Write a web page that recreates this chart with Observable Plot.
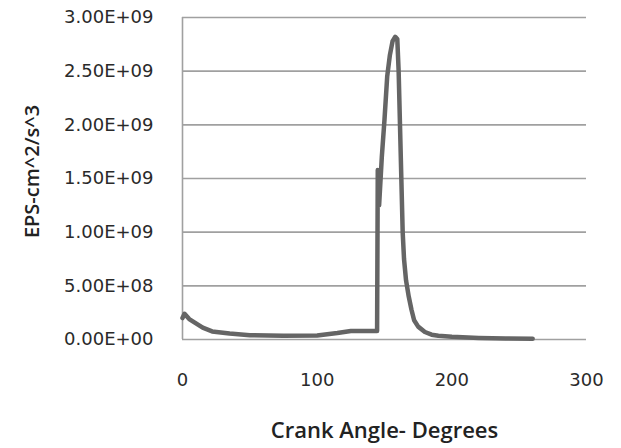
<!DOCTYPE html>
<html>
<head>
<meta charset="utf-8">
<script src="https://cdn.jsdelivr.net/npm/d3@7"></script>
<script src="https://cdn.jsdelivr.net/npm/@observablehq/plot@0.6"></script>
<style>
  html, body { margin: 0; padding: 0; background: #fff; }
  svg { display: block; }
</style>
</head>
<body>
<div id="chart"></div>
<script>
const angles = [0, 1.5, 5, 10, 15, 22, 35, 50, 75, 100, 115, 125, 142, 144.5, 145, 146, 148, 150, 152, 154, 156, 158, 159.5, 160.5, 161.5, 162.5, 163.5, 164.5, 166, 168, 170, 172, 175, 180, 185, 190, 200, 220, 240, 260];
const eps = [2.0e8, 2.4e8, 1.9e8, 1.5e8, 1.1e8, 7.5e7, 5.5e7, 4.0e7, 3.5e7, 3.7e7, 6.0e7, 8.0e7, 8.0e7, 8.0e7, 1.58e9, 1.25e9, 1.7e9, 2.05e9, 2.45e9, 2.65e9, 2.78e9, 2.82e9, 2.8e9, 2.5e9, 2.0e9, 1.5e9, 1.0e9, 7.5e8, 5.5e8, 4.0e8, 2.8e8, 1.8e8, 1.2e8, 7.0e7, 4.5e7, 3.5e7, 2.5e7, 1.5e7, 1.0e7, 8.0e6];
const xTicks = [0, 100, 200, 300];
const yTicks = [0, 5e8, 1e9, 1.5e9, 2e9, 2.5e9, 3e9];
const xTitle = "Crank Angle- Degrees";
const yTitle = "EPS-cm^2/s^3";

const data = angles.map((a, i) => ({angle: a, eps: eps[i]}));

function sci(d) {
  const [m, e] = d.toExponential(2).split("e");
  const sign = e[0] === "-" ? "-" : "+";
  const digits = e.replace(/[+-]/, "").padStart(2, "0");
  return m + "E" + sign + digits;
}

const chart = Plot.plot({
  width: 621,
  height: 448,
  marginLeft: 182,
  marginRight: 35,
  marginTop: 17,
  marginBottom: 109,
  style: {background: "#fff"},
  x: {domain: [0, 300], ticks: xTicks},
  y: {domain: [0, 3e9], ticks: yTicks},
  marks: [
    Plot.gridY(yTicks, {stroke: "#a0a0a0", strokeOpacity: 1, strokeWidth: 1.6}),
    Plot.ruleX([0], {y1: 0, y2: 3e9, stroke: "#a0a0a0", strokeWidth: 1.6}),
    Plot.line(data, {x: "angle", y: "eps", stroke: "#656565", strokeWidth: 4.5, strokeLinejoin: "round", strokeLinecap: "round"}),
    Plot.axisX(xTicks, {tickSize: 0, tickPadding: 34, fontSize: 18, fontFamily: "DejaVu Sans", fill: "#2a2a2a", label: null}),
    Plot.axisY(yTicks, {tickSize: 0, tickPadding: 29, fontSize: 18, fontFamily: "DejaVu Sans", fill: "#2a2a2a", tickFormat: sci, label: null}),
    Plot.text([xTitle], {frameAnchor: "bottom", dy: 98, fontSize: 22, fontWeight: 600, fontFamily: "Open Sans", fill: "#222"}),
    Plot.text([yTitle], {frameAnchor: "left", textAnchor: "middle", dx: -150, dy: -7, rotate: -90, fontSize: 20, fontWeight: 600, fontFamily: "Open Sans", fill: "#222"})
  ]
});
document.getElementById("chart").appendChild(chart);
</script>
</body>
</html>
